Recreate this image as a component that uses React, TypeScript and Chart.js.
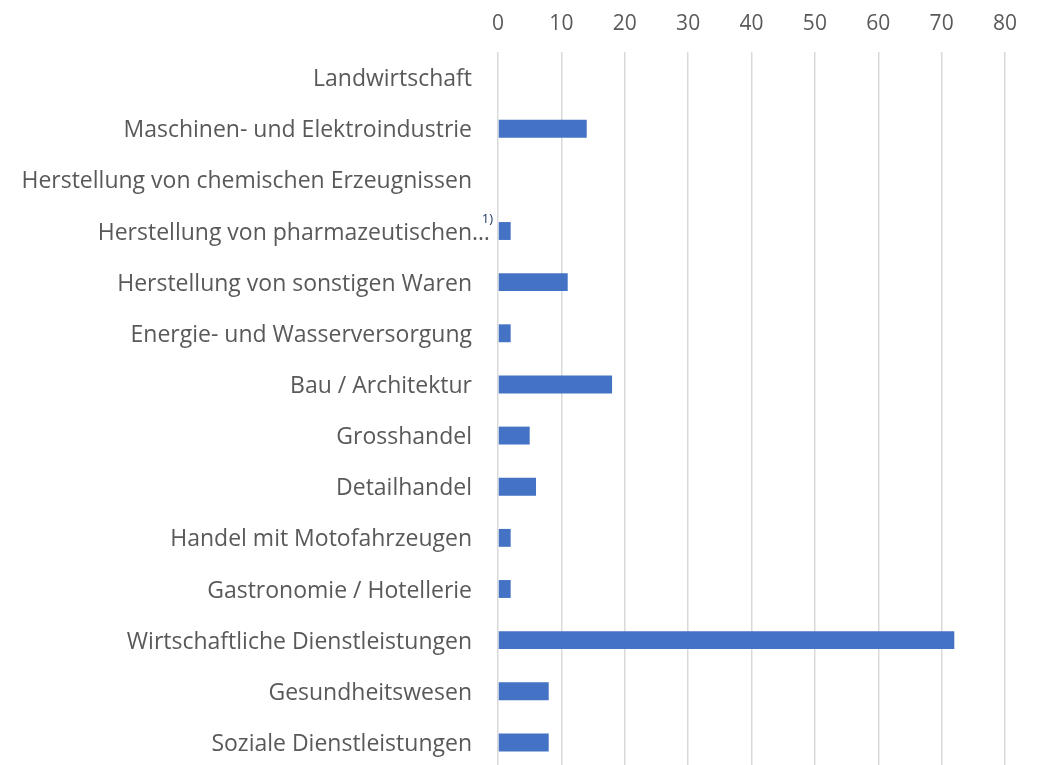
import React, { useEffect, useRef } from "react";
import { Chart, registerables } from "chart.js";

Chart.register(...registerables);

const categories = [
  "Landwirtschaft",
  "Maschinen- und Elektroindustrie",
  "Herstellung von chemischen Erzeugnissen",
  "Herstellung von pharmazeutischen…",
  "Herstellung von sonstigen Waren",
  "Energie- und Wasserversorgung",
  "Bau / Architektur",
  "Grosshandel",
  "Detailhandel",
  "Handel mit Motofahrzeugen",
  "Gastronomie / Hotellerie",
  "Wirtschaftliche Dienstleistungen",
  "Gesundheitswesen",
  "Soziale Dienstleistungen",
];
const values = [0, 14, 0, 2, 11, 2, 18, 5, 6, 2, 2, 72, 8, 8];
const footnoteIndex = 3;
const footnoteText = "1)";

const FONT = "'Open Sans', 'Noto Sans', sans-serif";
const LABEL_SIZE = 23;
const TICK_SIZE = 21;
const TEXT_COLOR = "#595959";
const LABEL_SHIFT = 2;

export default function App() {
  const ref = useRef<HTMLCanvasElement | null>(null);
  useEffect(() => {
    document.body.style.margin = "0";
    document.body.style.overflow = "hidden";
    const footnote = {
      id: "footnote",
      afterDraw(chart: any) {
        const y = chart.scales.y;
        const ctx = chart.ctx;
        const left = chart.chartArea.left;
        const cy = y.getPixelForValue(footnoteIndex);
        ctx.save();
        ctx.font = `${LABEL_SIZE}px ${FONT}`;
        ctx.fillStyle = TEXT_COLOR;
        ctx.textAlign = "right";
        ctx.textBaseline = "middle";
        ctx.fillText(categories[footnoteIndex], left - 8, cy + LABEL_SHIFT);
        ctx.font = `13px ${FONT}`;
        ctx.fillStyle = "#203864";
        ctx.textBaseline = "alphabetic";
        ctx.fillText(footnoteText, left - 5, cy - 8);
        ctx.restore();
      },
    };
    const chart = new Chart(ref.current as HTMLCanvasElement, {
      type: "bar",
      data: {
        labels: categories,
        datasets: [
          {
            data: values,
            backgroundColor: "#4472C4",
            borderWidth: 0,
            barPercentage: 0.35,
            categoryPercentage: 1,
          },
        ],
      },
      options: {
        indexAxis: "y",
        animation: false,
        responsive: true,
        maintainAspectRatio: false,
        layout: { padding: { right: 33, left: 0, top: 0, bottom: 0 } },
        plugins: { legend: { display: false }, tooltip: { enabled: false } },
        scales: {
          x: {
            position: "top",
            min: 0,
            max: 80,
            ticks: { stepSize: 10, color: TEXT_COLOR, font: { family: FONT, size: TICK_SIZE }, padding: 15 },
            grid: { color: "#D9D9D9", lineWidth: 1.5, drawTicks: false },
            border: { display: false },
            afterFit(scale: any) {
              scale.height = 52;
              scale.paddingLeft = 0;
              scale.paddingRight = 0;
            },
          },
          y: {
            ticks: {
              color: TEXT_COLOR,
              font: { family: FONT, size: LABEL_SIZE },
              padding: 26,
              labelOffset: LABEL_SHIFT,
              autoSkip: false,
              callback: (_v: any, i: number) => (i === footnoteIndex ? "" : categories[i]),
            },
            grid: { display: false, drawTicks: false },
            border: { display: false },
            afterFit(scale: any) {
              scale.width = 498;
              scale.paddingTop = 0;
              scale.paddingBottom = 0;
            },
          },
        },
      },
      plugins: [footnote],
    });
    return () => chart.destroy();
  }, []);
  return (
    <div style={{ position: "absolute", left: 0, top: 0, width: 1038, height: 768, background: "#fff" }}>
      <canvas ref={ref} />
    </div>
  );
}
